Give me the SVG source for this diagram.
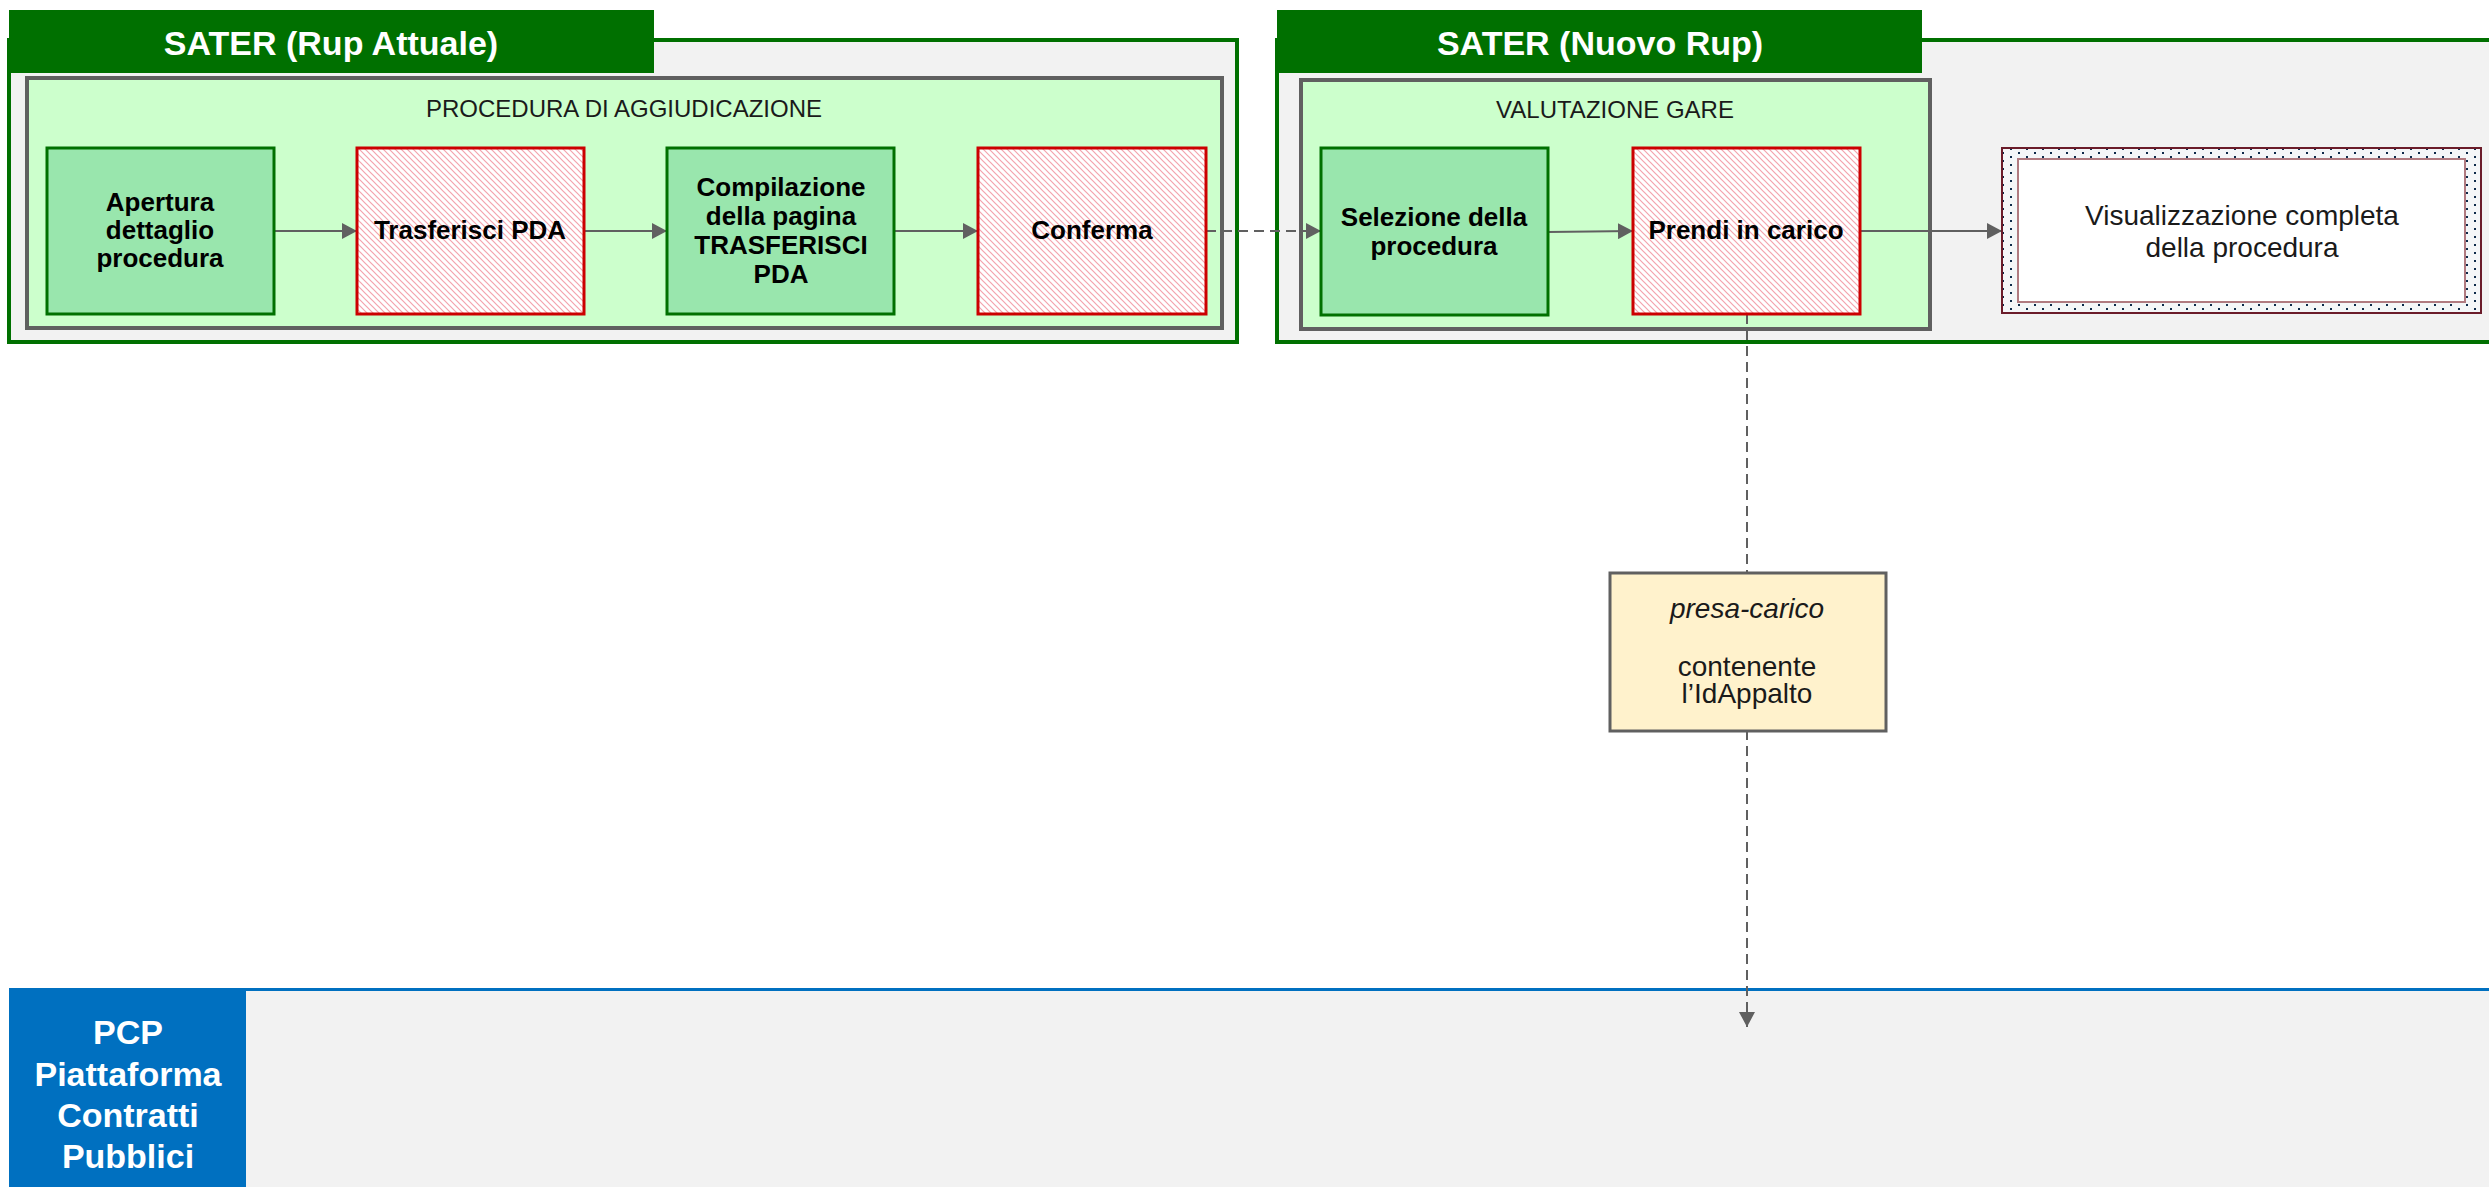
<svg xmlns="http://www.w3.org/2000/svg" width="2489" height="1187" viewBox="0 0 2489 1187">
<style>
.lane{fill:#f2f2f2;stroke:#007000;stroke-width:4}
.lhead{fill:#007000}
.lhtxt{font-family:"Liberation Sans",Arial,sans-serif;font-weight:bold;font-size:34px;fill:#ffffff;text-anchor:middle}
.sub{fill:#ccffcc;stroke:#606060;stroke-width:4}
.subtxt{font-family:"Liberation Sans",Arial,sans-serif;font-size:24px;fill:#1a1a1a;text-anchor:middle}
.gnode{fill:#99e6ad;stroke:#007000;stroke-width:3}
.rnode{fill:url(#hatch);stroke:#cc0000;stroke-width:3}
.ntxt{font-family:"Liberation Sans",Arial,sans-serif;font-weight:bold;font-size:26px;fill:#000000;text-anchor:middle}
.plain{font-family:"Liberation Sans",Arial,sans-serif;font-size:28px;fill:#1a1a1a;text-anchor:middle}
.conn{fill:none;stroke:#606060;stroke-width:2}
.dash{stroke-dasharray:10,6}
.pcptxt{font-family:"Liberation Sans",Arial,sans-serif;font-weight:bold;font-size:34px;fill:#ffffff;text-anchor:middle}
</style>
<defs>
<pattern id="hatch" patternUnits="userSpaceOnUse" width="6" height="6">
<rect width="6" height="6" fill="#ffffff"/>
<path d="M-1,-1 L7,7 M-1,5 L1,7 M5,-1 L7,1" stroke="#f4a3ad" stroke-width="1.2"/>
</pattern>
<pattern id="dots" patternUnits="userSpaceOnUse" x="2002" y="148" width="16" height="8">
<rect width="16" height="8" fill="#f4f6f8"/>
<rect x="8" y="0" width="2" height="2" fill="#0d2a4a"/>
<rect x="0" y="4" width="2" height="2" fill="#0d2a4a"/>
</pattern>
<marker id="arr" markerUnits="userSpaceOnUse" markerWidth="16" markerHeight="16" refX="15" refY="8" orient="auto">
<path d="M0,0 L15,8 L0,16 Z" fill="#606060"/>
</marker>
</defs>

<g id="lane-sater-attuale">
<rect class="lane" x="9" y="40" width="1228" height="302"/>
<rect class="lhead" x="9" y="10" width="645" height="63"/>
<text class="lhtxt" x="331" y="55">SATER (Rup Attuale)</text>
</g>
<g id="lane-sater-nuovo">
<rect class="lane" x="1277" y="40" width="1230" height="302"/>
<rect class="lhead" x="1277" y="10" width="645" height="63"/>
<text class="lhtxt" x="1600" y="55">SATER (Nuovo Rup)</text>
</g>
<g id="lane-pcp">
<rect x="246" y="990" width="2250" height="200" fill="#f2f2f2"/>
<line x1="9" y1="989.5" x2="2489" y2="989.5" stroke="#0070c0" stroke-width="3"/>
<rect x="9" y="988" width="237" height="202" fill="#0070c0"/>
<text class="pcptxt" x="128" y="1044">PCP</text>
<text class="pcptxt" x="128" y="1086">Piattaforma</text>
<text class="pcptxt" x="128" y="1127">Contratti</text>
<text class="pcptxt" x="128" y="1168">Pubblici</text>
</g>

<g id="group-procedura">
<rect class="sub" x="27" y="78" width="1195" height="250"/>
<text class="subtxt" x="624" y="117">PROCEDURA DI AGGIUDICAZIONE</text>
</g>
<g id="group-valutazione">
<rect class="sub" x="1301" y="80" width="629" height="249"/>
<text class="subtxt" x="1615" y="118">VALUTAZIONE GARE</text>
</g>

<g id="connectors">
<line class="conn" x1="275" y1="231" x2="357" y2="231" marker-end="url(#arr)"/>
<line class="conn" x1="584" y1="231" x2="667" y2="231" marker-end="url(#arr)"/>
<line class="conn" x1="894" y1="231" x2="978" y2="231" marker-end="url(#arr)"/>
<line class="conn dash" x1="1206" y1="231" x2="1321" y2="231" marker-end="url(#arr)"/>
<line class="conn" x1="1548" y1="232" x2="1633" y2="231" marker-end="url(#arr)"/>
<line class="conn" x1="1860" y1="231" x2="2002" y2="231" marker-end="url(#arr)"/>
<line class="conn dash" x1="1747" y1="314" x2="1747" y2="1027" marker-end="url(#arr)"/>
</g>

<g id="node-apertura">
<rect class="gnode" x="47" y="148" width="227" height="166"/>
<text class="ntxt" x="160" y="211">Apertura</text>
<text class="ntxt" x="160" y="239">dettaglio</text>
<text class="ntxt" x="160" y="267">procedura</text>
</g>
<g id="node-trasferisci">
<rect class="rnode" x="357" y="148" width="227" height="166"/>
<text class="ntxt" x="470" y="239">Trasferisci PDA</text>
</g>
<g id="node-compilazione">
<rect class="gnode" x="667" y="148" width="227" height="166"/>
<text class="ntxt" x="781" y="196">Compilazione</text>
<text class="ntxt" x="781" y="225">della pagina</text>
<text class="ntxt" x="781" y="254">TRASFERISCI</text>
<text class="ntxt" x="781" y="283">PDA</text>
</g>
<g id="node-conferma">
<rect class="rnode" x="978" y="148" width="228" height="166"/>
<text class="ntxt" x="1092" y="239">Conferma</text>
</g>
<g id="node-selezione">
<rect class="gnode" x="1321" y="148" width="227" height="167"/>
<text class="ntxt" x="1434" y="226">Selezione della</text>
<text class="ntxt" x="1434" y="255">procedura</text>
</g>
<g id="node-prendi">
<rect class="rnode" x="1633" y="148" width="227" height="166"/>
<text class="ntxt" x="1746" y="239">Prendi in carico</text>
</g>
<g id="node-visualizzazione">
<rect x="2002" y="148" width="479" height="165" fill="url(#dots)" stroke="#6b1c2a" stroke-width="2"/>
<rect x="2018" y="159" width="447" height="143" fill="#ffffff" stroke="#b07a80" stroke-width="2"/>
<text class="plain" x="2242" y="225">Visualizzazione completa</text>
<text class="plain" x="2242" y="257">della procedura</text>
</g>
<g id="node-presa-carico">
<rect x="1610" y="573" width="276" height="158" fill="#fff2cc" stroke="#606060" stroke-width="3"/>
<text class="plain" x="1747" y="618" font-style="italic">presa-carico</text>
<text class="plain" x="1747" y="676">contenente</text>
<text class="plain" x="1747" y="703">l’IdAppalto</text>
</g>
</svg>
